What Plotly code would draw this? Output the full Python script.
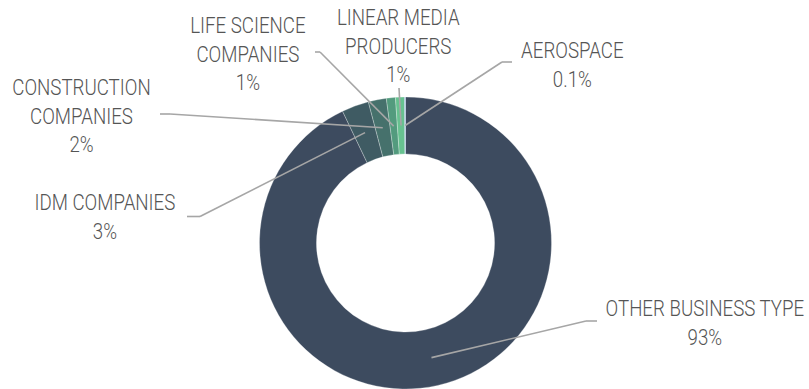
import math
import plotly.graph_objects as go

# Share of companies by business type (percent)
categories = [
    "OTHER BUSINESS TYPE",
    "IDM COMPANIES",
    "CONSTRUCTION<br>COMPANIES",
    "LIFE SCIENCE<br>COMPANIES",
    "LINEAR MEDIA<br>PRODUCERS",
    "AEROSPACE",
]
shares = [93, 3, 2, 1, 1, 0.1]
share_labels = ["93%", "3%", "2%", "1%", "1%", "0.1%"]

colors = ["#3d4b5f", "#3f5b63", "#46716c", "#539b7e", "#67c290", "#7d9fd6"]

W, H = 809, 389
CX, CY, R = 405.5, 243.0, 146.0   # donut centre and outer radius, px
HOLE = 0.61

# label centres and elbow points (px) for each category
label_pos = [(705, 323), (105, 217), (81, 116), (247.5, 54), (398.5, 46), (572.5, 65)]
elbows = [
    [(586, 321), (597, 321)],
    [(200, 216.5), (187, 216.5)],
    [(170, 114), (160, 114)],
    [(320, 52), (315, 52)],
    [(399, 88), (399, 88)],
    [(502, 62), (512, 62)],
]


def px(x, y):
    return x / W, 1 - y / H


fig = go.Figure(
    go.Pie(
        labels=[c.replace("<br>", " ") for c in categories],
        values=shares,
        hole=HOLE,
        sort=False,
        direction="clockwise",
        rotation=0,
        textinfo="none",
        marker=dict(colors=colors, line=dict(color="rgba(255,255,255,0.35)", width=0.8)),
        domain=dict(x=[(CX - R) / W, (CX + R) / W], y=[0, 1 - (CY - R) / H]),
        showlegend=False,
        hoverinfo="label+percent",
    )
)

total = sum(shares)
r_mid = R * (1 + HOLE) / 2
cum = 0.0
shapes = []
annotations = []
for i, v in enumerate(shares):
    mid = (cum + v / 2) / total * 2 * math.pi
    cum += v
    ax = CX + r_mid * math.sin(mid)
    ay = CY - r_mid * math.cos(mid)
    pts = [(ax, ay)] + elbows[i]
    for (x0, y0), (x1, y1) in zip(pts[:-1], pts[1:]):
        if (x0, y0) == (x1, y1):
            continue
        p0, p1 = px(x0, y0), px(x1, y1)
        shapes.append(dict(
            type="line", xref="paper", yref="paper",
            x0=p0[0], y0=p0[1], x1=p1[0], y1=p1[1],
            line=dict(color="#a6a6a6", width=1.6),
        ))
    lx, ly = px(*label_pos[i])
    annotations.append(dict(
        x=lx, y=ly, xref="paper", yref="paper",
        xanchor="center", yanchor="middle", align="center",
        text=f"{categories[i]}<br>{share_labels[i]}",
        showarrow=False,
        font=dict(family="Roboto, sans-serif", size=22, color="#555555", weight=300),
    ))

fig.update_layout(
    width=W, height=H,
    margin=dict(l=0, r=0, t=0, b=0),
    paper_bgcolor="white",
    plot_bgcolor="white",
    shapes=shapes,
    annotations=annotations,
)

# narrow the label lettering to a condensed look
condense_js = """
var s = document.createElement('style');
s.textContent = '.annotation-text { transform-box: fill-box; transform-origin: center; transform: scaleX(0.85); }';
document.head.appendChild(s);
"""

fig.write_html("out.html", post_script=condense_js)
